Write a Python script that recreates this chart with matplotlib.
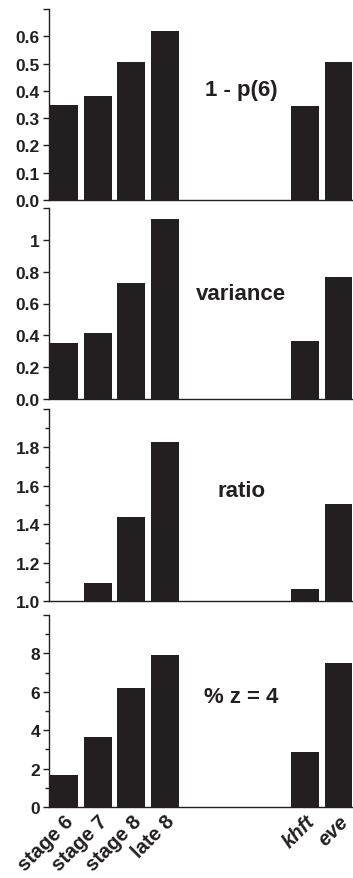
import matplotlib
matplotlib.use("Agg")
import matplotlib.pyplot as plt
from matplotlib.ticker import FixedLocator, MultipleLocator

categories = ["stage 6", "stage 7", "stage 8", "late 8", "khft", "eve"]
italic_labels = ["khft", "eve"]
one_minus_p6 = [0.348, 0.381, 0.506, 0.618, 0.345, 0.507]
variance = [0.352, 0.415, 0.728, 1.132, 0.367, 0.769]
ratio = [1.0, 1.095, 1.44, 1.826, 1.064, 1.505]
pct_z4 = [1.67, 3.67, 6.21, 7.90, 2.84, 7.48]

panel_titles = ["1 - p(6)", "variance", "ratio", "% z = 4"]
panel_values = [one_minus_p6, variance, ratio, pct_z4]
ylims = [(0, 0.7), (0, 1.2), (1.0, 2.0), (0, 10)]
major_ticks = [[0.0, 0.1, 0.2, 0.3, 0.4, 0.5, 0.6, 0.7],
               [0.0, 0.2, 0.4, 0.6, 0.8, 1.0, 1.2],
               [1.0, 1.2, 1.4, 1.6, 1.8, 2.0],
               [0, 2, 4, 6, 8, 10]]
tick_labels = [["0.0", "0.1", "0.2", "0.3", "0.4", "0.5", "0.6", ""],
               ["0.0", "0.2", "0.4", "0.6", "0.8", "1", ""],
               ["1.0", "1.2", "1.4", "1.6", "1.8", ""],
               ["0", "2", "4", "6", "8", ""]]
minor_steps = [None, None, 0.1, 1]

plt.rcParams['font.family'] = ['Liberation Sans', 'DejaVu Sans']

W, H = 353, 879
fig = plt.figure(figsize=(W / 100, H / 100), dpi=100)

xpos = [0, 1, 2, 3, 7.15, 8.15]
bar_color = "#231f20"
# panel pixel extents (top, bottom)
panels_px = [(10, 201), (209, 400), (410, 602), (616, 808)]
left_px = 49
text_y = [0.58, 0.55, 0.573, 0.573]

for i, (top, bot) in enumerate(panels_px):
    ax = fig.add_axes([left_px / W, 1 - bot / H, (W - left_px) / W, (bot - top) / H])
    vals = panel_values[i]
    y0 = ylims[i][0]
    ax.bar(xpos, [v - y0 for v in vals], bottom=y0, width=0.83, color=bar_color,
           edgecolor="none", zorder=3)
    ax.set_xlim(-0.445, 8.58)
    ax.set_ylim(*ylims[i])
    ax.yaxis.set_major_locator(FixedLocator(major_ticks[i]))
    ax.set_yticklabels(tick_labels[i], fontsize=12.5, fontweight="bold", color="#231f20")
    if minor_steps[i]:
        ax.yaxis.set_minor_locator(MultipleLocator(minor_steps[i]))
    for s in ["top", "right"]:
        ax.spines[s].set_visible(False)
    for s in ["left", "bottom"]:
        ax.spines[s].set_linewidth(1.0)
        ax.spines[s].set_color("#231f20")
    ax.tick_params(axis="y", which="major", direction="out", length=4, width=1,
                   color="#231f20", pad=2.5)
    ax.tick_params(axis="y", which="minor", direction="out", length=3, width=1,
                   color="#231f20")
    ax.text(0.632, text_y[i], panel_titles[i], transform=ax.transAxes, ha="center",
            va="center", fontsize=16, fontweight="bold", color="#231f20")
    ax.set_xticks(xpos)
    if i == 3:
        ax.tick_params(axis="x", length=0, pad=3)
        ax.set_xticklabels(categories, rotation=45, ha="right",
                           rotation_mode="anchor", fontsize=14.5, fontweight="bold",
                           color="#231f20")
        for lab in ax.get_xticklabels():
            if lab.get_text() in italic_labels:
                lab.set_fontstyle("italic")
    else:
        ax.tick_params(axis="x", length=0, labelbottom=False)
    ax.patch.set_alpha(0)

fig.savefig("out.png", dpi=100)
